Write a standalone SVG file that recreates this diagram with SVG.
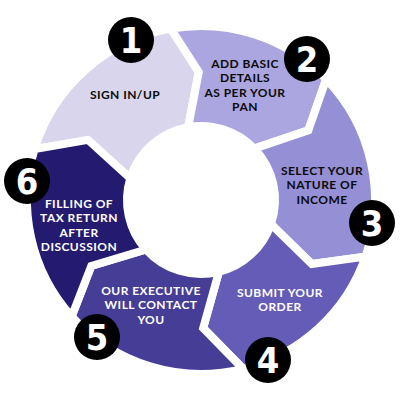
<svg xmlns="http://www.w3.org/2000/svg" width="400" height="400" viewBox="0 0 400 400">
<style>
.seg{stroke:#fff;stroke-width:8;stroke-linejoin:miter}
.lbl{font-family:Lato,"Liberation Sans",sans-serif;font-weight:700;font-size:12px;letter-spacing:0.45px;text-anchor:middle}
.dark{fill:#0a0a0a}
.light{fill:#fff}
.badge{fill:#000}
.num{font-family:"Liberation Sans Narrow","DejaVu Sans Condensed","Liberation Sans",sans-serif;font-weight:700;font-size:36px;fill:#fff;text-anchor:middle}
</style>
<rect width="400" height="400" fill="#fff"/>
<g id="step1">
<path class="seg" fill="#d8d5ec" d="M 34.60 149.13 A 174 174 0 0 1 170.79 28.64 L 198.77 72.02 L 188.15 127.12 A 74 74 0 0 0 130.23 178.36 L 87.98 139.91 Z"/>
<text class="lbl dark" x="125" y="99">SIGN IN/UP</text>
</g>
<g id="step2">
<path class="seg" fill="#aba6df" d="M 170.79 28.64 A 174 174 0 0 1 326.17 79.13 L 308.35 130.29 L 254.23 148.59 A 74 74 0 0 0 188.15 127.12 L 198.77 72.02 Z"/>
<text class="lbl dark" x="245" y="68">ADD BASIC<tspan x="245" dy="14.3">DETAILS</tspan><tspan x="245" dy="14.3">AS PER YOUR</tspan><tspan x="245" dy="14.3">PAN</tspan></text>
</g>
<g id="step3">
<path class="seg" fill="#958fd5" d="M 326.17 79.13 A 174 174 0 0 1 365.52 256.65 L 311.85 264 L 270.97 224.09 A 74 74 0 0 0 254.23 148.59 L 308.35 130.29 Z"/>
<text class="lbl dark" x="322" y="175">SELECT YOUR<tspan x="322" dy="14.3">NATURE OF</tspan><tspan x="322" dy="14.3">INCOME</tspan></text>
</g>
<g id="step4">
<path class="seg" fill="#655cb8" d="M 365.52 256.65 A 174 174 0 0 1 243.09 368.83 L 203.2 328 L 218.90 271.80 A 74 74 0 0 0 270.97 224.09 L 311.85 264 Z"/>
<text class="lbl light" x="280" y="297">SUBMIT YOUR<tspan x="280" dy="14.3">ORDER</tspan></text>
</g>
<g id="step5">
<path class="seg" fill="#463d96" d="M 243.09 368.83 A 174 174 0 0 1 71.69 316.43 L 91.28 265.93 L 146.01 249.52 A 74 74 0 0 0 218.90 271.80 L 203.2 328 Z"/>
<text class="lbl light" x="151" y="295">OUR EXECUTIVE<tspan x="151" dy="14.3">WILL CONTACT</tspan><tspan x="151" dy="14.3">YOU</tspan></text>
</g>
<g id="step6">
<path class="seg" fill="#241b71" d="M 71.69 316.43 A 174 174 0 0 1 34.60 149.13 L 87.98 139.91 L 130.23 178.36 A 74 74 0 0 0 146.01 249.52 L 91.28 265.93 Z"/>
<text class="lbl light" x="79" y="208">FILLING OF<tspan x="79" dy="14.3">TAX RETURN</tspan><tspan x="79" dy="14.3">AFTER</tspan><tspan x="79" dy="14.3">DISCUSSION</tspan></text>
</g>
<g id="badges">
<g id="badge1"><circle class="badge" cx="131" cy="40" r="23"/><text class="num" x="131" y="53">1</text></g>
<g id="badge2"><circle class="badge" cx="307" cy="59" r="23"/><text class="num" x="307" y="72">2</text></g>
<g id="badge3"><circle class="badge" cx="372" cy="223" r="23"/><text class="num" x="372" y="236">3</text></g>
<g id="badge4"><circle class="badge" cx="268" cy="360" r="23"/><text class="num" x="268" y="373">4</text></g>
<g id="badge5"><circle class="badge" cx="97" cy="337" r="23"/><text class="num" x="97" y="350">5</text></g>
<g id="badge6"><circle class="badge" cx="27" cy="181" r="23"/><text class="num" x="27" y="194">6</text></g>
</g>
</svg>
